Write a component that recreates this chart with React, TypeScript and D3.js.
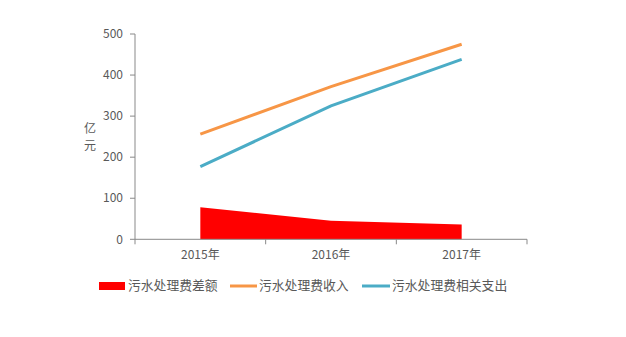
import React from "react";
import * as d3 from "d3";

const categories = ["2015年", "2016年", "2017年"];
const diffValues = [78, 45, 36];
const incomeValues = [256, 372, 475];
const expenseValues = [177, 325, 438];
const yTicks = [0, 100, 200, 300, 400, 500];
const seriesNames = ["污水处理费差额", "污水处理费收入", "污水处理费相关支出"];
const colors = ["#FF0000", "#F79646", "#4BACC6"];

const W = 626, H = 337;
const left = 135, right = 527, top = 34, bottom = 239.3;
const font = "'Noto Sans CJK SC', 'Microsoft YaHei', sans-serif";
const textColor = "#595959";
const axisColor = "#898989";

export default function App() {
  const x = d3.scaleBand<string>().domain(categories).range([left, right]);
  const cx = (c: string) => (x(c) as number) + x.bandwidth() / 2;
  const y = d3.scaleLinear().domain([0, 500]).range([bottom, top]);

  const area = d3.area<number>()
    .x((_, i) => cx(categories[i]))
    .y0(y(0))
    .y1((d) => y(d));
  const line = d3.line<number>()
    .x((_, i) => cx(categories[i]))
    .y((d) => y(d));

  const boundaries = [...categories.map((c) => x(c) as number), right];

  return (
    <svg width={W} height={H} style={{ position: "absolute", left: 0, top: 0, fontFamily: font }}>
      <rect x={0} y={0} width={W} height={H} fill="#fff" />
      <path d={area(diffValues) || ""} fill={colors[0]} />
      <path d={line(incomeValues) || ""} fill="none" stroke={colors[1]} strokeWidth={3} />
      <path d={line(expenseValues) || ""} fill="none" stroke={colors[2]} strokeWidth={3} />
      {/* y axis */}
      <line x1={left} x2={left} y1={top} y2={bottom} stroke={axisColor} strokeWidth={1} />
      {yTicks.map((t) => (
        <g key={t}>
          <line x1={left - 5} x2={left} y1={y(t)} y2={y(t)} stroke={axisColor} />
          <text x={123} y={y(t)} dy="0.35em" textAnchor="end" fontSize={12} fill={textColor}>{t}</text>
        </g>
      ))}
      {/* x axis */}
      <line x1={left} x2={right} y1={bottom} y2={bottom} stroke={axisColor} />
      {boundaries.map((b, i) => (
        <line key={i} x1={b} x2={b} y1={bottom} y2={bottom + 5} stroke={axisColor} />
      ))}
      {categories.map((c) => (
        <text key={c} x={cx(c)} y={259} textAnchor="middle" fontSize={12} fill={textColor}>{c}</text>
      ))}
      {/* y axis title */}
      <text x={90} y={133} textAnchor="middle" fontSize={12} fill={textColor}>亿</text>
      <text x={90} y={150} textAnchor="middle" fontSize={12} fill={textColor}>元</text>
      {/* legend */}
      <rect x={99} y={282} width={26} height={8} fill={colors[0]} />
      <text x={128} y={290} fontSize={12.8} fill={textColor}>{seriesNames[0]}</text>
      <line x1={230} x2={257} y1={286} y2={286} stroke={colors[1]} strokeWidth={3} />
      <text x={259} y={290} fontSize={12.8} fill={textColor}>{seriesNames[1]}</text>
      <line x1={362} x2={390} y1={286} y2={286} stroke={colors[2]} strokeWidth={3} />
      <text x={392} y={290} fontSize={12.8} fill={textColor}>{seriesNames[2]}</text>
    </svg>
  );
}
